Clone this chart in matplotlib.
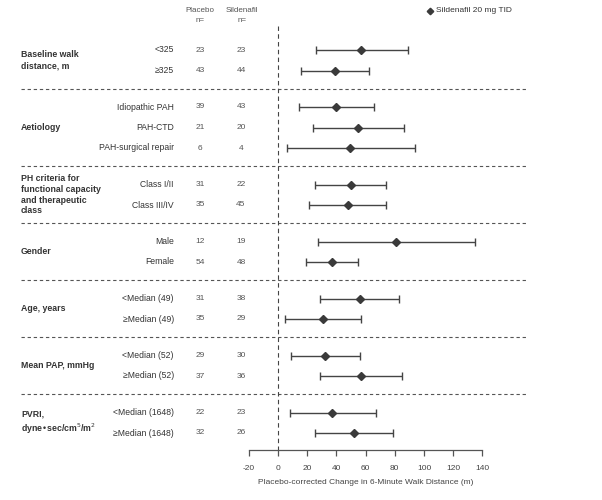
import matplotlib.pyplot as plt

plt.rcParams["font.family"] = ["Liberation Sans", "DejaVu Sans"]
plt.rcParams["axes.unicode_minus"] = False

# groups and subgroups, top to bottom
groups = [
    "Baseline walk\ndistance, m",
    "Aetiology",
    "PH criteria for\nfunctional capacity\nand therapeutic\nclass",
    "Gender",
    "Age, years",
    "Mean PAP, mmHg",
    "PVRI,\ndyne\u2022sec/cm$^5$/m$^2$",
]
subgroups = [
    ["<325", "\u2265325"],
    ["Idiopathic PAH", "PAH-CTD", "PAH-surgical repair"],
    ["Class I/II", "Class III/IV"],
    ["Male", "Female"],
    ["<Median (49)", "\u2265Median (49)"],
    ["<Median (52)", "\u2265Median (52)"],
    ["<Median (1648)", "\u2265Median (1648)"],
]
n_placebo = [[23, 43], [39, 21, 6], [31, 35], [12, 54], [31, 35], [29, 37], [22, 32]]
n_sildenafil = [[23, 44], [43, 20, 4], [22, 45], [19, 48], [38, 29], [30, 36], [23, 26]]
estimate = [[57, 39], [40, 55, 49], [50, 48], [81, 37], [56, 31], [32, 57], [37, 52]]
ci_low = [[26, 16], [14, 24, 6], [25, 21], [27, 19], [29, 5], [9, 29], [8, 25]]
ci_high = [[89, 62], [66, 86, 94], [74, 74], [135, 55], [83, 57], [56, 85], [67, 79]]

xticks = [-20, 0, 20, 40, 60, 80, 100, 120, 140]
xlabel = "Placebo-corrected Change in 6-Minute Walk Distance (m)"
legend_label = "Sildenafil 20 mg TID"

W, H = 602, 500
fig = plt.figure(figsize=(W / 100, H / 100), dpi=100)
bg = fig.add_axes([0, 0, 1, 1])
bg.set_xlim(0, W)
bg.set_ylim(H, 0)
bg.axis("off")

x_lo_px, x_hi_px, axis_y = 249, 482.3, 450
ax = fig.add_axes([x_lo_px / W, (H - axis_y) / H, (x_hi_px - x_lo_px) / W, axis_y / H])
ax.patch.set_alpha(0)
ax.set_xlim(-20, 140)
ax.set_ylim(axis_y, 0)
for s in ("top", "left", "right"):
    ax.spines[s].set_visible(False)
ax.spines["bottom"].set_color("#555555")
ax.spines["bottom"].set_linewidth(0.9)
ax.set_yticks([])
ax.set_xticks(xticks)
ax.tick_params(axis="x", direction="out", length=4, width=0.9, color="#555555",
               labelsize=6, labelcolor="#444444", pad=6.5)
ax.set_xlabel(xlabel, fontsize=6, color="#444444", labelpad=5)

txt = "#333333"
num = "#555555"
line_c = "#3a3a3a"

# header
bg.text(200, 10, "Placebo", ha="center", va="center", fontsize=5.8, color=num)
bg.text(200, 20, "n=", ha="center", va="center", fontsize=5.8, color=num)
bg.text(242, 10, "Sildenafil", ha="center", va="center", fontsize=5.8, color=num)
bg.text(242, 20, "n=", ha="center", va="center", fontsize=5.8, color=num)

# legend
bg.plot([429.5], [11], marker="D", color=line_c, markersize=3.3)
bg.text(436, 11, legend_label, ha="left", va="center", fontsize=6, color=txt)

y = 50
step, gap = 20.5, 36.5
for gi, grp in enumerate(groups):
    ys = []
    for si, sub in enumerate(subgroups[gi]):
        ys.append(y)
        bg.text(174, y, sub, ha="right", va="center", fontsize=6.2, color=txt)
        bg.text(200, y, str(n_placebo[gi][si]), ha="center", va="center", fontsize=6, color=num)
        bg.text(241, y, str(n_sildenafil[gi][si]), ha="center", va="center", fontsize=6, color=num)
        ax.errorbar(estimate[gi][si], y,
                    xerr=[[estimate[gi][si] - ci_low[gi][si]], [ci_high[gi][si] - estimate[gi][si]]],
                    fmt="D", color=line_c, ecolor="#444444", elinewidth=1.0, capsize=3.2,
                    capthick=1.0, markersize=4.5, clip_on=False)
        y += step
    y -= step
    bg.text(21, (ys[0] + ys[-1]) / 2, grp, ha="left", va="center", fontsize=6.3,
            fontweight="bold", color=txt, linespacing=1.25)
    if gi < len(groups) - 1:
        sep = y + gap / 2
        bg.plot([21, 527], [sep, sep], ls=(0, (3, 2.5)), lw=0.8, color="#555555")
        y += gap

ax.plot([0, 0], [26, axis_y], ls=(0, (4, 3)), lw=0.8, color="#444444", clip_on=False)

fig.savefig("out.png", dpi=100)
